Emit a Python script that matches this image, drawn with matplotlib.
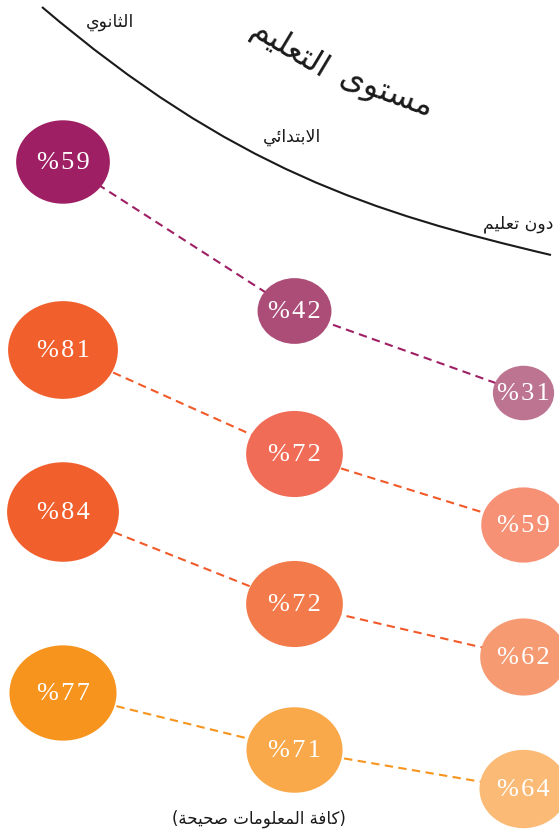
import numpy as np
import matplotlib
matplotlib.use("Agg")
import matplotlib.pyplot as plt
from matplotlib.patches import Ellipse, PathPatch
from matplotlib.path import Path

# ---- data -------------------------------------------------------------
levels = ["الثانوي", "الابتدائي", "دون تعليم"]
title = "مستوى التعليم"
footnote = "كافة المعلومات صحيحة"

row_1 = [59, 42, 31]
row_2 = [81, 72, 59]
row_3 = [84, 72, 62]
row_4 = [77, 71, 64]
rows = [row_1, row_2, row_3, row_4]

# ---- layout & style (pixel-like canvas, y grows downward) -------------
W, H = 559, 831
col_x = [63, 294.5, 523.5]
row_y = [[162, 311, 393],
         [350, 454, 525],
         [512, 604, 657],
         [693, 750, 789]]
col_scale = [6.1, 5.7, 5.5]      # radius = scale * sqrt(value)
squash = 0.89                    # vertical / horizontal radius

fills = [["#9E1F63", "#AC4D78", "#BC7491"],
         ["#F15F2C", "#F06C57", "#F69176"],
         ["#F15F2C", "#F37B4B", "#F69A72"],
         ["#F7941E", "#F9A84A", "#FBBB77"]]
link_colors = ["#9E1F63", "#F15A29", "#F15A29", "#F7941D"]

# ---- minimal Arabic contextual shaping for matplotlib -----------------
FORMS = {
    "ا": ("\uFE8D", "\uFE8E", None, None),
    "ب": ("\uFE8F", "\uFE90", "\uFE91", "\uFE92"),
    "ة": ("\uFE93", "\uFE94", None, None),
    "ت": ("\uFE95", "\uFE96", "\uFE97", "\uFE98"),
    "ث": ("\uFE99", "\uFE9A", "\uFE9B", "\uFE9C"),
    "ح": ("\uFEA1", "\uFEA2", "\uFEA3", "\uFEA4"),
    "د": ("\uFEA9", "\uFEAA", None, None),
    "س": ("\uFEB1", "\uFEB2", "\uFEB3", "\uFEB4"),
    "ص": ("\uFEB9", "\uFEBA", "\uFEBB", "\uFEBC"),
    "ع": ("\uFEC9", "\uFECA", "\uFECB", "\uFECC"),
    "ف": ("\uFED1", "\uFED2", "\uFED3", "\uFED4"),
    "ك": ("\uFED9", "\uFEDA", "\uFEDB", "\uFEDC"),
    "ل": ("\uFEDD", "\uFEDE", "\uFEDF", "\uFEE0"),
    "م": ("\uFEE1", "\uFEE2", "\uFEE3", "\uFEE4"),
    "ن": ("\uFEE5", "\uFEE6", "\uFEE7", "\uFEE8"),
    "و": ("\uFEED", "\uFEEE", None, None),
    "ى": ("\uFEEF", "\uFEF0", None, None),
    "ي": ("\uFEF1", "\uFEF2", "\uFEF3", "\uFEF4"),
    "ئ": ("\uFE89", "\uFE8A", "\uFE8B", "\uFE8C"),
}


def shape(text):
    out = []
    prev_joins = False
    i = 0
    while i < len(text):
        c = text[i]
        nxt = text[i + 1] if i + 1 < len(text) else ""
        if c not in FORMS:
            out.append(c)
            prev_joins = False
            i += 1
            continue
        if c == "ل" and nxt == "ا":
            out.append("\uFEFC" if prev_joins else "\uFEFB")
            prev_joins = False
            i += 2
            continue
        iso, fin, ini, med = FORMS[c]
        can_next = ini is not None and nxt in FORMS
        if prev_joins and can_next:
            g = med
        elif prev_joins:
            g = fin
        elif can_next:
            g = ini
        else:
            g = iso
        out.append(g)
        prev_joins = can_next
        i += 1
    return "".join(reversed(out))


def spaced(s):
    # a little tracking between the characters of a bubble label
    return "\u200a".join(s)


AR = ["DejaVu Sans"]
NUM = ["Liberation Serif", "DejaVu Serif"]
INK = "#1a1a1a"

fig = plt.figure(figsize=(W / 100, H / 100), dpi=100)
ax = fig.add_axes([0, 0, 1, 1])
ax.set_xlim(0, W)
ax.set_ylim(H, 0)
ax.axis("off")

# ---- header curve and level labels ------------------------------------
curve = Path([(42, 7), (232, 168.5), (372, 212.8), (551, 255)],
             [Path.MOVETO, Path.CURVE4, Path.CURVE4, Path.CURVE4])
ax.add_patch(PathPatch(curve, fill=False, edgecolor=INK, lw=1.5))

ax.text(110, 22, shape(levels[0]), family=AR, fontsize=12.5, color=INK,
        ha="center", va="center")
ax.text(292, 137, shape(levels[1]), family=AR, fontsize=12.5, color=INK,
        ha="center", va="center")
ax.text(553, 224, shape(levels[2]), family=AR, fontsize=12.5, color=INK,
        ha="right", va="center")

# title bent along the curve, one word at a time
t_words = title.split(" ")
ax.text(386, 94, shape(t_words[0]), family=AR, fontsize=23, color=INK,
        ha="center", va="center", rotation=-20, rotation_mode="anchor")
ax.text(290, 50, shape(t_words[1]), family=AR, fontsize=23, color=INK,
        ha="center", va="center", rotation=-31, rotation_mode="anchor")

# ---- dashed links and bubbles ----------------------------------------
for r, vals in enumerate(rows):
    xs = col_x
    ys = row_y[r]
    ax.plot(xs, ys, color=link_colors[r], lw=1.5, ls=(0, (4, 2.6)),
            zorder=1, dash_capstyle="butt")
    for c, v in enumerate(vals):
        rx = col_scale[c] * np.sqrt(v)
        ax.add_patch(Ellipse((xs[c], ys[c]), 2 * rx, 2 * rx * squash,
                             facecolor=fills[r][c], edgecolor="none",
                             zorder=2))
        ax.text(xs[c], ys[c] + 1, spaced(f"%{v}"), family=NUM, fontsize=19,
                color="white", ha="center", va="center", zorder=3)

# ---- footnote ---------------------------------------------------------
ax.text(259, 819, "(" + shape(footnote) + ")", family=AR, fontsize=12,
        color=INK, ha="center", va="center")

fig.savefig("out.png", dpi=100)
